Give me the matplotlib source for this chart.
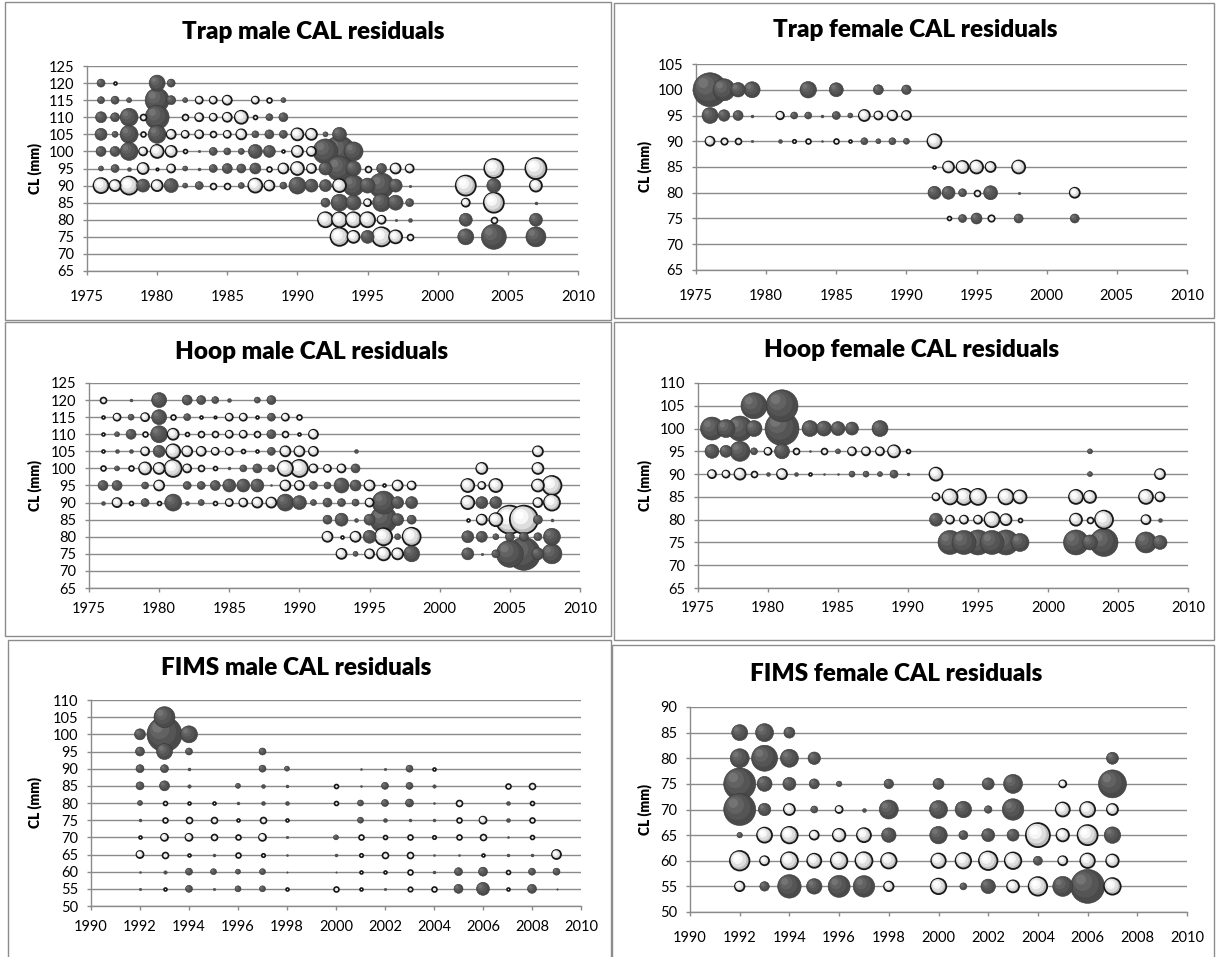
import matplotlib
matplotlib.use('Agg')
import matplotlib.pyplot as plt
from matplotlib.patches import Rectangle
import numpy as np

plt.rcParams['font.family'] = ['Lato', 'DejaVu Sans']

W, H, DPI = 1216, 957, 100

# ---------------- data: (year, residual) per CL row; sign: + dark, - white ----------------
trap_male_cl = [120, 115, 110, 105, 100, 95, 90, 85, 80, 75]
trap_male_rows = [
    [(1976, 7), (1977, -2), (1980, 15), (1981, 7)],
    [(1976, 6), (1977, 7), (1978, 4), (1980, 23), (1981, 8), (1982, 4), (1983, -6), (1984, -6), (1985, -8),
     (1987, -6), (1988, -4), (1989, 4)],
    [(1976, 10), (1977, 8), (1978, 17), (1979, -5), (1980, 23), (1982, -5), (1983, -7), (1984, -6), (1985, -8),
     (1986, -12), (1987, -3), (1988, 6), (1989, 8)],
    [(1976, 11), (1977, 5), (1978, 17), (1979, -4), (1980, 17), (1981, -8), (1982, -6), (1983, -7), (1984, -5),
     (1985, -6), (1986, -9), (1987, 6), (1988, 8), (1989, 7), (1990, -11), (1991, -10), (1992, 4), (1993, 13)],
    [(1976, 9), (1977, 9), (1978, 17), (1979, -7), (1980, -12), (1981, -10), (1982, -3), (1983, 1.5), (1984, 7),
     (1985, 6), (1986, 5), (1987, 13), (1988, 11), (1989, -2), (1990, -10), (1991, -8), (1992, 24), (1993, 30),
     (1994, 18)],
    [(1976, 4), (1977, 7), (1978, 3), (1979, -10), (1980, -1.5), (1981, -7), (1982, 4), (1983, 2), (1984, 7),
     (1985, 9), (1986, 8), (1987, 10), (1988, -4), (1989, -9), (1990, -12), (1991, -8), (1992, 12), (1993, 24),
     (1994, 14), (1995, -5), (1996, 9), (1997, -9), (1998, -7), (2004, -18), (2007, -20)],
    [(1976, -14), (1977, -10), (1978, -17), (1979, 12), (1980, -10), (1981, 13), (1982, 4), (1983, 7), (1984, -5),
     (1985, -5), (1986, 5), (1987, -13), (1988, -9), (1989, 6), (1990, 16), (1991, 12), (1992, 11), (1993, -12),
     (1994, 20), (1995, 14), (1996, 24), (1997, 12), (1998, 1.5), (2002, -19), (2004, 13), (2007, -11)],
    [(1992, 8), (1993, 16), (1994, 14), (1995, -6), (1996, 17), (1997, 14), (1998, 7), (2002, -7), (2004, -19),
     (2007, 2)],
    [(1992, -14), (1993, -14), (1994, -14), (1995, -14), (1996, -7), (1997, 1.5), (1998, 3), (2002, 12),
     (2004, -5), (2007, 12)],
    [(1993, -17), (1994, -11), (1995, 12), (1996, -18), (1997, -12), (1998, -5), (2002, 15), (2004, 24),
     (2007, 19)],
]

trap_female_cl = [100, 95, 90, 85, 80, 75]
trap_female_rows = [
    [(1976, 33), (1977, 21), (1978, 13.5), (1979, 15), (1983, 15.5), (1985, 13), (1988, 9), (1990, 8.5)],
    [(1976, 15), (1977, 10.5), (1978, 9), (1979, 2), (1981, -6.5), (1982, 6), (1983, 6), (1984, 2), (1985, 7),
     (1986, 4), (1987, -10), (1988, -7), (1989, -8.5), (1990, -8)],
    [(1976, -8), (1977, -5.5), (1978, -5), (1979, 1.5), (1981, 3), (1982, -2.5), (1983, -4), (1984, 1),
     (1985, -4), (1986, -2), (1987, 6), (1988, 4), (1989, 6), (1990, 5), (1992, -13)],
    [(1992, -2), (1993, -10), (1994, -11), (1995, -12), (1996, -9), (1998, -12)],
    [(1992, 12), (1993, 12), (1994, 7), (1995, -5), (1996, 13), (1998, 1.5), (2002, -9)],
    [(1993, -3), (1994, 7), (1995, 10), (1996, -5.5), (1998, 8), (2002, 8)],
]

hoop_male_cl = [120, 115, 110, 105, 100, 95, 90, 85, 80, 75]
hoop_male_rows = [
    [(1976, -5), (1978, 2), (1980, 14), (1982, 9), (1983, 8), (1984, 6), (1985, 3), (1987, 5), (1988, 8)],
    [(1976, -2), (1977, -6), (1978, 5), (1979, -7), (1980, 14), (1981, -4), (1982, 6), (1983, -2), (1984, -1.5),
     (1985, -6), (1986, -6), (1987, -2), (1988, 7), (1989, -6), (1990, -4)],
    [(1976, -2), (1977, 4), (1978, 9), (1979, -4), (1980, 16), (1981, -10), (1982, -3), (1983, -5), (1984, -5),
     (1985, -6), (1986, -6), (1987, -5), (1988, 8), (1989, -5), (1990, -2), (1991, -8)],
    [(1976, -2), (1977, 3), (1978, 3), (1979, -7), (1980, 11), (1981, -13), (1982, -9), (1983, -8), (1984, -6),
     (1985, -6), (1986, -3), (1987, -2), (1988, 7), (1989, -9), (1990, -9), (1991, -8), (1994, 3), (2007, -9)],
    [(1976, -4), (1977, 4), (1978, -4), (1979, -11), (1980, -10), (1981, -16), (1982, -7), (1983, -5), (1984, -3),
     (1985, 2), (1986, 6), (1987, 8), (1988, 6), (1989, -14), (1990, -16), (1991, -7), (1992, -6), (1993, -7),
     (1994, 8), (2003, -10), (2007, -10)],
    [(1976, 9), (1977, 9), (1979, 6), (1980, -9), (1982, 7), (1983, 7), (1984, 9), (1985, 12), (1986, 12),
     (1987, 12), (1988, 1), (1989, -9), (1990, -8), (1991, 7), (1992, 6), (1993, 14), (1994, 10), (1995, -9),
     (1996, -2), (1997, -9), (1998, -7), (2002, -12), (2003, -6), (2004, -12), (2007, -11), (2008, -18)],
    [(1976, 3), (1977, -8), (1978, -3), (1979, 7), (1980, -3), (1981, 16), (1982, 3), (1983, 5), (1984, -3),
     (1985, -6), (1986, -7), (1987, -9), (1988, -9), (1989, 16), (1990, 13), (1991, 5), (1992, 8), (1993, 7),
     (1994, 6), (1995, -7), (1996, 22), (1997, 11), (1998, 11), (2002, -12), (2003, 11), (2004, 11), (2007, -8),
     (2008, -15)],
    [(1992, 8), (1993, 12), (1994, 3), (1995, 10), (1996, 26), (1997, 11), (1998, 8), (2002, -2), (2003, -9),
     (2004, -12), (2005, -27), (2006, -27), (2007, 8), (2008, 2)],
    [(1992, -9), (1993, -2), (1994, -9), (1995, 12), (1996, -16), (1997, 5), (1998, -17), (2002, 11), (2003, 10),
     (2004, 5), (2005, 8), (2006, 8), (2007, 7), (2008, 16)],
    [(1993, -9), (1994, 4), (1995, -8), (1996, -12), (1997, -10), (1998, 15), (2002, 11), (2003, 1.5), (2004, 7),
     (2005, 26), (2006, 32), (2007, 11), (2008, 19)],
]

hoop_female_cl = [105, 100, 95, 90, 85, 80, 75]
hoop_female_rows = [
    [(1979, 25), (1981, 31)],
    [(1976, 22), (1977, 17), (1978, 24), (1979, 15), (1981, 33), (1983, 15), (1984, 14), (1985, 13), (1986, 12),
     (1988, 15)],
    [(1976, 13), (1977, 11), (1978, 19), (1979, 6), (1980, -6), (1981, 14), (1982, -5), (1983, 1), (1984, -5),
     (1985, 4), (1986, -7), (1987, -7), (1988, -7), (1989, -11), (1990, -3), (2003, 4)],
    [(1976, -7), (1977, -6), (1978, -10), (1979, -5), (1980, 3), (1981, -9), (1982, 3), (1983, -2), (1984, 1),
     (1985, 1), (1986, 5), (1987, 5), (1988, 4), (1989, 7), (1990, 2), (1992, -12), (2003, 4), (2008, -9)],
    [(1992, -6), (1993, -14), (1994, -15), (1995, -15), (1997, -14), (1998, -12), (2002, -13), (2003, -11),
     (2007, -13), (2008, -8)],
    [(1992, 12), (1993, -7), (1994, -7), (1995, -7), (1996, -14), (1997, -10), (1998, -3), (2002, -11),
     (2003, -5), (2004, -17), (2007, -8), (2008, 3)],
    [(1993, 23), (1994, 23), (1995, 24), (1996, 23), (1997, 24), (1998, 17), (2002, 24), (2003, 14), (2004, 27),
     (2007, 20), (2008, 13)],
]

fims_male_cl = [105, 100, 95, 90, 85, 80, 75, 70, 65, 60, 55]
fims_male_rows = [
    [(1993, 20)],
    [(1992, 10), (1993, 34), (1994, 16)],
    [(1992, 8), (1993, 15), (1994, 6), (1997, 6)],
    [(1992, 7), (1993, 7), (1994, 2), (1997, 6), (1998, 4), (2001, 1), (2002, 1.5), (2003, 6), (2004, -2)],
    [(1992, 7), (1993, 9), (1994, 2.5), (1996, 4), (1997, 3), (1998, 2), (2000, -3), (2001, 1), (2002, 6),
     (2003, 6), (2004, 2.5), (2007, -4), (2008, -5)],
    [(1992, 4), (1993, -3), (1994, -2), (1995, -2), (1996, 2), (1997, 3), (1998, 3), (2000, -3), (2001, 5),
     (2002, 6), (2003, 7), (2004, 1), (2005, -5), (2007, 3), (2008, -3)],
    [(1992, 2), (1993, -4), (1994, -5), (1995, -5), (1996, -2), (1997, -5), (1998, -2), (2001, 5), (2002, 3),
     (2003, 2), (2004, 2), (2005, -4), (2006, -6), (2007, 3), (2008, -4)],
    [(1992, -2), (1993, -6), (1994, -6), (1995, -5), (1996, -4), (1997, -6), (1998, 1.5), (2000, 4), (2001, -4),
     (2002, -3), (2003, -4), (2004, -2.5), (2005, -4), (2006, -5), (2007, 1), (2008, -3)],
    [(1992, -6), (1993, -5), (1994, -2), (1995, 2), (1996, -4), (1997, -2.5), (1998, 1), (2000, 2), (2001, -2.5),
     (2002, -5), (2003, -5), (2004, 1), (2005, 1), (2006, -2), (2007, 2), (2008, 2), (2009, -8)],
    [(1992, 1), (1993, 2.5), (1994, 6), (1995, 5), (1996, 4), (1997, 5), (1998, 0.5), (2000, 0.5), (2001, -2),
     (2002, -2), (2003, -4), (2004, 2), (2005, 7), (2006, 8), (2007, -3), (2008, 6), (2009, 6)],
    [(1992, 1.5), (1993, -2), (1994, 6), (1995, 1.5), (1996, 5), (1997, 5), (1998, -2), (2000, -4), (2001, -2),
     (2002, 1.5), (2003, -3.5), (2004, -4), (2005, 8), (2006, 12), (2007, -2), (2008, 8), (2009, 0.5)],
]

fims_female_cl = [85, 80, 75, 70, 65, 60, 55]
fims_female_rows = [
    [(1992, 15), (1993, 17), (1994, 10)],
    [(1992, 18), (1993, 25), (1994, 17), (1995, 11.5), (2007, 11)],
    [(1992, 31), (1993, 14), (1994, 12), (1995, 9), (1996, 4.5), (1998, 8.5), (2000, 10), (2002, 11), (2003, 18),
     (2005, -6), (2007, 27)],
    [(1992, 31), (1993, 11.5), (1994, -10), (1995, 6), (1996, -6), (1997, 3), (1998, 18), (2000, 17), (2001, 15.5),
     (2002, 6.5), (2003, 20.5), (2005, -13), (2006, -14), (2007, -10)],
    [(1992, 4.5), (1993, -14), (1994, -15.5), (1995, -8), (1996, -11.5), (1997, -13), (1998, 13.5), (2000, 16.5),
     (2001, 8), (2002, 12), (2003, 11), (2004, -23), (2005, -11.5), (2006, -19), (2007, 15.5)],
    [(1992, -18.5), (1993, -8), (1994, -16), (1995, -13), (1996, -15.5), (1997, -16), (1998, -14.5),
     (2000, -13.5), (2001, -14.5), (2002, -17.5), (2003, -15.5), (2004, 8), (2005, -8), (2006, -13.5),
     (2007, -11.5)],
    [(1992, -8.5), (1993, 8.5), (1994, 22.5), (1995, 14.5), (1996, 21), (1997, 20.5), (1998, -8.5),
     (2000, -14.5), (2001, 6), (2002, 13.5), (2003, -11), (2004, -17.5), (2005, 19), (2006, 33), (2007, -15.5)],
]

titles = ['Trap male CAL residuals', 'Trap female CAL residuals', 'Hoop male CAL residuals',
          'Hoop female CAL residuals', 'FIMS male CAL residuals', 'FIMS female CAL residuals']
ylabel_text = 'CL (mm)'

# ---------------- layout (pixel geometry) ----------------
panels = [
    dict(cl=trap_male_cl, rows=trap_male_rows, xlim=(1975, 2010), xstep=5, ylim=(65, 125),
         box=(5, 2, 611, 320), ax=(87, 578, 66, 271), title=(313, 32), ylab=35, xpad=11),
    dict(cl=trap_female_cl, rows=trap_female_rows, xlim=(1975, 2010), xstep=5, ylim=(65, 105),
         box=(614, 3, 1214, 318), ax=(696, 1187, 64, 270), title=(915, 30), ylab=645, xpad=11),
    dict(cl=hoop_male_cl, rows=hoop_male_rows, xlim=(1975, 2010), xstep=5, ylim=(65, 125),
         box=(5, 322, 611, 636), ax=(89, 580, 383, 588), title=(312, 352), ylab=35, xpad=7),
    dict(cl=hoop_female_cl, rows=hoop_female_rows, xlim=(1975, 2010), xstep=5, ylim=(65, 110),
         box=(614, 322, 1214, 640), ax=(698, 1188, 383, 588), title=(912, 350), ylab=645, xpad=6),
    dict(cl=fims_male_cl, rows=fims_male_rows, xlim=(1990, 2010), xstep=2, ylim=(50, 110),
         box=(8, 640, 611, 962), ax=(91, 581, 700, 906), title=(296, 668), ylab=35, xpad=7),
    dict(cl=fims_female_cl, rows=fims_female_rows, xlim=(1990, 2010), xstep=2, ylim=(50, 90),
         box=(612, 645, 1214, 962), ax=(690, 1187, 707, 912), title=(896, 674), ylab=645, xpad=11),
]

fig = plt.figure(figsize=(W / DPI, H / DPI), dpi=DPI)
fig.patch.set_facecolor('white')

GRID = '#8a8a8a'
PX2PT = 72.0 / DPI


def draw_bubbles(ax, p):
    L, R, T, B = p['ax']
    x0, x1 = p['xlim']
    y0, y1 = p['ylim']
    xpp = (x1 - x0) / (R - L)   # data per pixel
    ypp = (y1 - y0) / (B - T)
    items = []
    for cl, row in zip(p['cl'], p['rows']):
        for yr, r in row:
            items.append((yr, cl, r))
    items.sort(key=lambda t: -abs(t[2]))
    for i, (yr, cl, r) in enumerate(items):
        d = abs(r) + 1.0
        if r > 0:
            layers = [(1.0, 0.0, '#4a4a4a', '#383838', 0.4),
                      (0.80, 0.07, '#555555', 'none', 0),
                      (0.55, 0.14, '#626262', 'none', 0),
                      (0.30, 0.20, '#747474', 'none', 0)]
            if d < 5:
                layers = [(1.0, 0.0, '#505050', '#404040', 0.3)]
        else:
            layers = [(1.0, 0.0, '#bdbdbd', '#181818', 1.3),
                      (0.82, 0.06, '#dedede', 'none', 0),
                      (0.55, 0.11, '#f6f6f6', 'none', 0),
                      (0.30, 0.16, '#ffffff', 'none', 0)]
            if d < 7:
                layers = [(1.0, 0.0, '#eeeeee', '#181818', 1.2)]
        xs, ys, ss, fcs, ecs, lws = [], [], [], [], [], []
        for frac, off, fc, ec, lw in layers:
            xs.append(yr - off * d * xpp)
            ys.append(cl + off * d * ypp)
            ss.append((frac * d * PX2PT) ** 2)
            fcs.append(fc)
            ecs.append(ec)
            lws.append(lw)
        ax.scatter(xs, ys, s=ss, c=fcs, edgecolors=ecs, linewidths=lws, zorder=3 + i * 0.001,
                   clip_on=False)


for k, p in enumerate(panels):
    bx0, by0, bx1, by1 = p['box']
    fig.patches.append(Rectangle((bx0 / W, 1 - by1 / H), (bx1 - bx0) / W, (by1 - by0) / H,
                                 transform=fig.transFigure, fill=False, edgecolor='#8c8c8c', lw=1.0))
    L, R, T, B = p['ax']
    ax = fig.add_axes([L / W, 1 - B / H, (R - L) / W, (B - T) / H])
    ax.set_xlim(*p['xlim'])
    ax.set_ylim(*p['ylim'])
    ax.set_xticks(np.arange(p['xlim'][0], p['xlim'][1] + 0.1, p['xstep']))
    ax.set_yticks(np.arange(p['ylim'][0], p['ylim'][1] + 0.1, 5))
    ax.yaxis.grid(True, color=GRID, lw=1.0)
    ax.set_axisbelow(True)
    for s in ['top', 'right']:
        ax.spines[s].set_visible(False)
    for s in ['left', 'bottom']:
        ax.spines[s].set_color(GRID)
        ax.spines[s].set_linewidth(1.0)
    ax.tick_params(axis='x', direction='out', length=3, width=1.0, color=GRID, pad=p['xpad'],
                   labelsize=10.5, labelcolor='#000000')
    ax.tick_params(axis='y', direction='out', length=3, width=1.0, color=GRID, pad=6,
                   labelsize=10.5, labelcolor='#000000')
    draw_bubbles(ax, p)
    tx, ty = p['title']
    fig.text(tx / W, 1 - ty / H, titles[k], ha='center', va='center', fontsize=17.5,
             fontweight='heavy', color='#000000')
    fig.text(p['ylab'] / W, 1 - ((T + B) / 2) / H, ylabel_text, rotation=90, ha='center',
             va='center', fontsize=10, fontweight='heavy', color='#000000')

fig.savefig('out.png', dpi=DPI, facecolor='white')
